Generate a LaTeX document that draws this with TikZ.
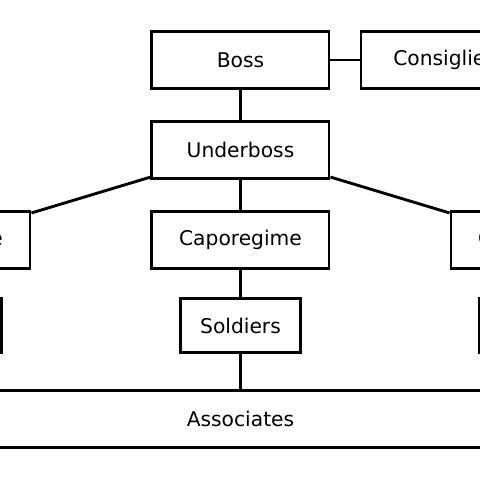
\documentclass[tikz,border=0pt]{standalone}
\usepackage{fontspec}
\setmainfont{DejaVu Sans}
\usetikzlibrary{positioning}

\begin{document}
\begin{tikzpicture}[
        role/.style={rectangle, draw, line width=1.7pt, minimum width=3.69cm, minimum height=1.17cm, align=center, font=\fontsize{12}{14}\selectfont},
        link/.style={line width=1.7pt}]

        \useasboundingbox (0,0) rectangle (10,10);
        \clip (0,0) rectangle (10,10);

        \node[role] (boss) at (5.01,8.75) {Boss};
        \node[role] (cons) at (9.365,8.75) {Consigliere};
        \node[role] (ub) at (5.01,6.875) {Underboss};

        \node[role] (capl) at (-1.219,5) {Caporegime};
        \node[role] (capm) at (5.01,5) {Caporegime};
        \node[role] (capr) at (11.24,5) {Caporegime};

        \node[role, minimum width=2.5cm, minimum height=1.125cm] (soll) at (-1.219,3.21) {Soldiers};
        \node[role, minimum width=2.5cm, minimum height=1.125cm] (solm) at (5.01,3.21) {Soldiers};
        \node[role, minimum width=2.5cm, minimum height=1.125cm] (solr) at (11.24,3.21) {Soldiers};

        \node[role, minimum width=16.15cm] (assoc) at (5.01,1.271) {Associates};

        \draw[link] (boss) -- (cons);
        \draw[link] (boss) -- (ub);
        \draw[link] (ub) -- (capl);
        \draw[link] (ub) -- (capm);
        \draw[link] (ub) -- (capr);
        \draw[link] (capl) -- (soll);
        \draw[link] (capm) -- (solm);
        \draw[link] (capr) -- (solr);
        \draw[link] (soll) -- (soll |- assoc.north);
        \draw[link] (solm) -- (assoc);
        \draw[link] (solr) -- (solr |- assoc.north);
    \end{tikzpicture}
\end{document}
